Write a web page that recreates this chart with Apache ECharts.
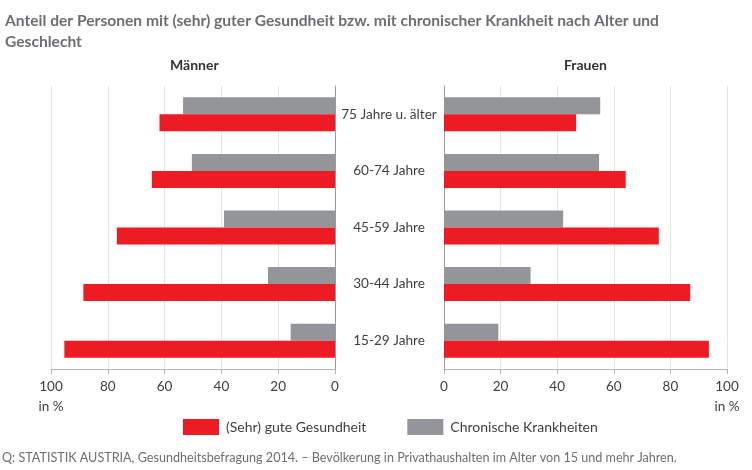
<!DOCTYPE html>
<html>
<head>
<meta charset="utf-8">
<script src="https://cdn.jsdelivr.net/npm/echarts@6/dist/echarts.min.js"></script>
<style>html,body{margin:0;padding:0;background:#fff;}#c{width:752px;height:470px;}</style>
</head>
<body>
<div id="c"></div>
<script>
const categories = ['15-29 Jahre', '30-44 Jahre', '45-59 Jahre', '60-74 Jahre', '75 Jahre u. älter'];
const menGood = [95.3, 88.6, 76.8, 64.5, 61.8];
const menChronic = [15.6, 23.6, 39.1, 50.4, 53.5];
const womenGood = [93.6, 87.0, 75.9, 64.2, 46.7];
const womenChronic = [19.2, 30.6, 42.1, 54.8, 55.2];
const xTicks = [0, 20, 40, 60, 80, 100];
const seriesNames = ['(Sehr) gute Gesundheit', 'Chronische Krankheiten'];

const FONT = 'Lato, "Open Sans", sans-serif';
const RED = '#ED1C24', GRAY = '#939598';
const chart = echarts.init(document.getElementById('c'));

function xAxisFor(idx, inverse) {
  return {
    type: 'value', gridIndex: idx, inverse: inverse, min: xTicks[0], max: xTicks[xTicks.length - 1],
    interval: xTicks[1] - xTicks[0],
    axisLine: { show: true, lineStyle: { color: '#b5b5b5', width: 1 } },
    axisTick: { show: true, length: 5, lineStyle: { color: '#b5b5b5' } },
    splitLine: { show: true, lineStyle: { color: '#e3e3e3', width: 1 } },
    axisLabel: {
      fontFamily: FONT, fontSize: 13.5, color: '#404040', margin: 8, lineHeight: 20,
      formatter: v => v === 100 ? '100\nin %' : String(v)
    }
  };
}

chart.setOption({
  animation: false,
  textStyle: { fontFamily: FONT },
  title: {
    text: 'Anteil der Personen mit (sehr) guter Gesundheit bzw. mit chronischer Krankheit nach Alter und\nGeschlecht',
    left: 0, top: 5,
    textStyle: { fontFamily: FONT, fontSize: 15.6, fontWeight: 'bold', color: '#6d6e71', lineHeight: 21 }
  },
  legend: {
    data: seriesNames, left: 178, top: 414, itemWidth: 36, itemHeight: 16, itemGap: 41,
    icon: 'rect',
    textStyle: { fontFamily: FONT, fontSize: 14, color: '#404040', padding: [0, 0, 0, 2] }
  },
  grid: [
    { left: 51, top: 86, width: 284, height: 283 },
    { left: 444, top: 86, width: 283, height: 283 }
  ],
  xAxis: [xAxisFor(0, true), xAxisFor(1, false)],
  yAxis: [
    { type: 'category', gridIndex: 0, data: categories, position: 'right',
      axisLine: { show: true, lineStyle: { color: '#9a9a9a' } }, axisTick: { show: false }, axisLabel: { show: false } },
    { type: 'category', gridIndex: 1, data: categories, position: 'left',
      axisLine: { show: true, lineStyle: { color: '#9a9a9a' } }, axisTick: { show: false },
      axisLabel: { show: true, margin: 55, align: 'center', fontFamily: FONT, fontSize: 13.6, color: '#404040' } }
  ],
  series: [
    { name: seriesNames[1], type: 'bar', xAxisIndex: 0, yAxisIndex: 0, data: menChronic, barWidth: 17, barGap: '0%', itemStyle: { color: GRAY } },
    { name: seriesNames[0], type: 'bar', xAxisIndex: 0, yAxisIndex: 0, data: menGood, barWidth: 17, barGap: '0%', itemStyle: { color: RED } },
    { name: seriesNames[1], type: 'bar', xAxisIndex: 1, yAxisIndex: 1, data: womenChronic, barWidth: 17, barGap: '0%', itemStyle: { color: GRAY } },
    { name: seriesNames[0], type: 'bar', xAxisIndex: 1, yAxisIndex: 1, data: womenGood, barWidth: 17, barGap: '0%', itemStyle: { color: RED } }
  ],
  graphic: [
    { type: 'text', left: 170, top: 58, style: { text: 'Männer', fontFamily: FONT, fontSize: 14, fontWeight: 'bold', fill: '#333333' } },
    { type: 'text', left: 564, top: 58, style: { text: 'Frauen', fontFamily: FONT, fontSize: 14, fontWeight: 'bold', fill: '#333333' } },
    { type: 'text', left: 2, top: 451, style: { text: 'Q: STATISTIK AUSTRIA, Gesundheitsbefragung 2014. \u2013 Bevölkerung in Privathaushalten im Alter von 15 und mehr Jahren.', fontFamily: FONT, fontSize: 12.6, fill: '#6d6e71' } }
  ]
});
</script>
</body>
</html>
